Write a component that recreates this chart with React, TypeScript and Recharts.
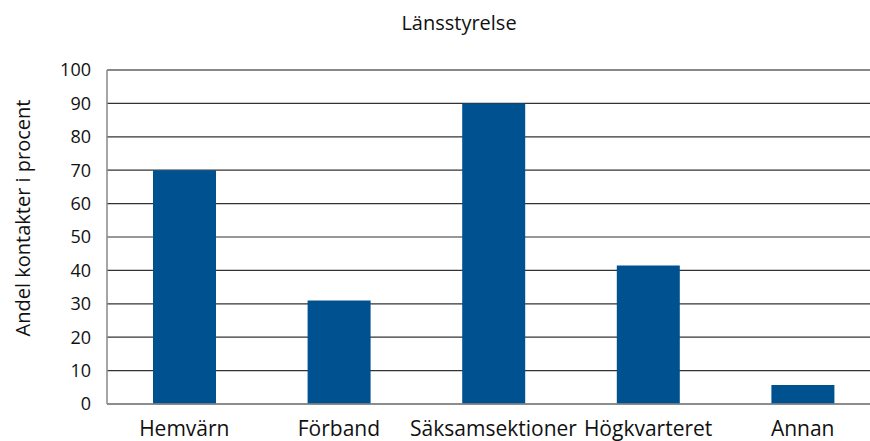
import React from 'react';
import { BarChart, Bar, XAxis, YAxis, CartesianGrid, ReferenceLine } from 'recharts';

const categories = ['Hemvärn', 'Förband', 'Säksamsektioner', 'Högkvarteret', 'Annan'];
const values = [70, 31, 90, 41.5, 5.7];
const yTicks = [0, 10, 20, 30, 40, 50, 60, 70, 80, 90, 100];
const title = 'Länsstyrelse';
const yLabel = 'Andel kontakter i procent';

const data = categories.map((c, i) => ({ name: c, value: values[i] }));

const FONT = '"Open Sans", "Noto Sans", "DejaVu Sans", sans-serif';

const YLabel = () => (
  <text
    x={22}
    y={218}
    transform="rotate(-90 22 218)"
    textAnchor="middle"
    dominantBaseline="central"
    fontFamily={FONT}
    fontSize={20}
    fill="#111"
  >
    {yLabel}
  </text>
);

export default function App() {
  return (
    <div style={{ position: 'absolute', left: 0, top: 0, width: 870, height: 441, overflow: 'hidden', background: '#fff' }}>
      <style>{'html,body{overflow:hidden;margin:0}'}</style>
      <div
        style={{
          position: 'absolute',
          left: 0,
          width: 918,
          top: 11,
          textAlign: 'center',
          fontFamily: FONT,
          fontSize: 20,
          color: '#111',
          lineHeight: '24px',
        }}
      >
        {title}
      </div>
      <BarChart
        width={870}
        height={441}
        data={data}
        margin={{ top: 70, right: 0, left: 0, bottom: 0 }}
      >
        <CartesianGrid vertical={false} stroke="#333" strokeWidth={1.2} />
        <ReferenceLine y={100} stroke="#888" strokeWidth={2} />
        <XAxis
          dataKey="name"
          height={37}
          padding={{ left: 0, right: -10 }}
          tickLine={false}
          tickSize={0}
          tickMargin={17}
          axisLine={{ stroke: '#888', strokeWidth: 1.5 }}
          tick={{ fontFamily: FONT, fontSize: 21, fill: '#111' }}
          interval={0}
        />
        <YAxis
          width={107}
          domain={[0, 100]}
          ticks={yTicks}
          tickLine={false}
          tickSize={0}
          tickMargin={16}
          axisLine={{ stroke: '#888', strokeWidth: 1.5 }}
          tick={{ fontFamily: FONT, fontSize: 18, fill: '#111' }}
          label={<YLabel />}
        />
        <Bar dataKey="value" fill="#005190" barSize={63} isAnimationActive={false} />
      </BarChart>
    </div>
  );
}
